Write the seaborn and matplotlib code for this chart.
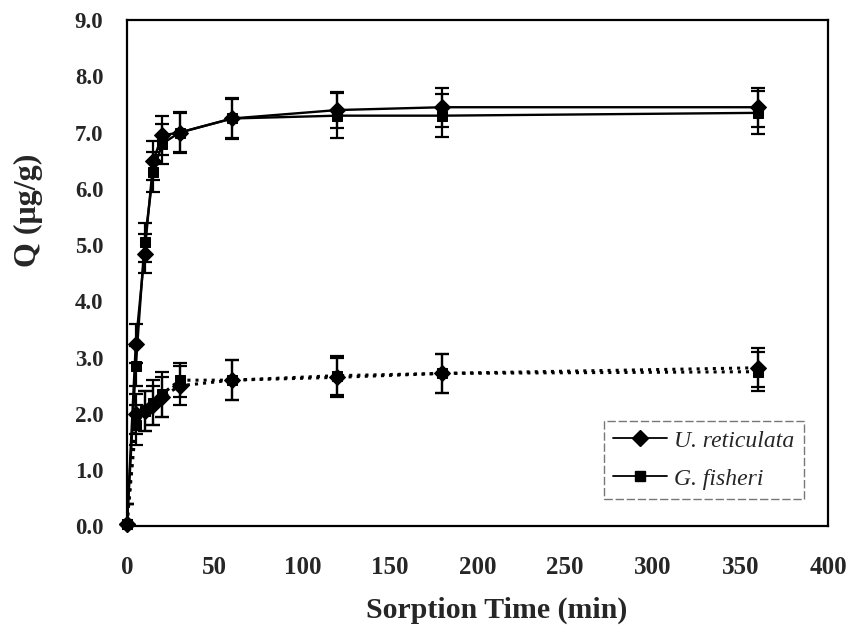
import numpy as np
import pandas as pd
import matplotlib
matplotlib.use("Agg")
import matplotlib.pyplot as plt
import seaborn as sns
from matplotlib.lines import Line2D

time = [0, 5, 10, 15, 20, 30, 60, 120, 180, 360]

# solid series
ure_solid = [0.05, 3.25, 4.85, 6.50, 6.95, 7.00, 7.25, 7.40, 7.45, 7.45]
ure_solid_err = [0.35, 0.35, 0.35, 0.35, 0.35, 0.35, 0.35, 0.32, 0.35, 0.35]
gfi_solid = [0.05, 2.85, 5.05, 6.30, 6.80, 7.00, 7.25, 7.30, 7.30, 7.35]
gfi_solid_err = [0.35, 0.35, 0.35, 0.35, 0.35, 0.37, 0.37, 0.40, 0.38, 0.38]

# dotted series
ure_dot = [0.05, 2.00, 2.05, 2.15, 2.30, 2.50, 2.60, 2.65, 2.72, 2.82]
ure_dot_err = [0.35, 0.35, 0.35, 0.35, 0.35, 0.35, 0.35, 0.35, 0.35, 0.35]
gfi_dot = [0.05, 1.80, 2.05, 2.20, 2.35, 2.60, 2.60, 2.68, 2.72, 2.75]
gfi_dot_err = [0.35, 0.35, 0.35, 0.40, 0.40, 0.30, 0.35, 0.35, 0.35, 0.35]

xticks = [0, 50, 100, 150, 200, 250, 300, 350, 400]
yticks = [0, 1, 2, 3, 4, 5, 6, 7, 8, 9]

sns.set_style("white")
plt.rcParams['font.family'] = ['Liberation Serif', 'DejaVu Serif']

fig = plt.figure(figsize=(8.56, 6.29), dpi=100)
ax = fig.add_axes([0.1484, 0.1630, 0.8189, 0.8052])

series = [
    ("U. reticulata", ure_solid, ure_solid_err, "D", "-", 8),
    ("G. fisheri", gfi_solid, gfi_solid_err, "s", "-", 7.5),
    (None, ure_dot, ure_dot_err, "D", ":", 8),
    (None, gfi_dot, gfi_dot_err, "s", ":", 7.5),
]

for name, vals, err, mk, ls, ms in series:
    df = pd.DataFrame({"time": time, "Q": vals})
    ax.errorbar(df["time"], df["Q"], yerr=err, fmt="none", ecolor="black",
                elinewidth=1.6, capsize=5, capthick=1.6, zorder=2)
    sns.lineplot(data=df, x="time", y="Q", ax=ax, color="black", marker=mk,
                 markersize=ms, markeredgecolor="black", linestyle=ls,
                 linewidth=1.7 if ls == "-" else 2.2, legend=False, zorder=3,
                 clip_on=False)

ax.set_xlim(0, 400)
ax.set_ylim(0, 9)
ax.set_xticks(xticks)
ax.set_yticks(yticks)
ax.set_xticklabels([str(t) for t in xticks], fontsize=18, fontweight="bold")
ax.set_yticklabels([f"{t:.1f}" for t in yticks], fontsize=16.5, fontweight="bold")
ax.tick_params(axis="x", direction="in", length=6, width=1.2, pad=21)
ax.tick_params(axis="y", direction="out", length=6.5, width=1.2, pad=10.5)
ax.set_xlabel("Sorption Time (min)", fontsize=21.5, fontweight="bold")
ax.xaxis.set_label_coords(0.528, -0.138)
ax.set_ylabel("Q (μg/g)", fontsize=23, fontweight="bold")
ax.yaxis.set_label_coords(-0.12, 0.625)
for sp in ax.spines.values():
    sp.set_visible(True)
    sp.set_color("black")
    sp.set_linewidth(1.6)

handles = [
    Line2D([], [], color="black", marker="D", markersize=8, linewidth=1.3),
    Line2D([], [], color="black", marker="s", markersize=7.5, linewidth=1.3),
]
leg = ax.legend(handles, ["U. reticulata", "G. fisheri"], loc="lower right",
                bbox_to_anchor=(0.966, 0.054), frameon=True, fancybox=False,
                prop={"style": "italic", "size": 17}, handlelength=2.3,
                borderpad=0.4, labelspacing=0.7, handletextpad=0.3,
                borderaxespad=0.0)
leg.get_frame().set_edgecolor("#555555")
leg.get_frame().set_linestyle((0, (6, 2)))
leg.get_frame().set_linewidth(1.0)

fig.savefig("out.png", dpi=100)
